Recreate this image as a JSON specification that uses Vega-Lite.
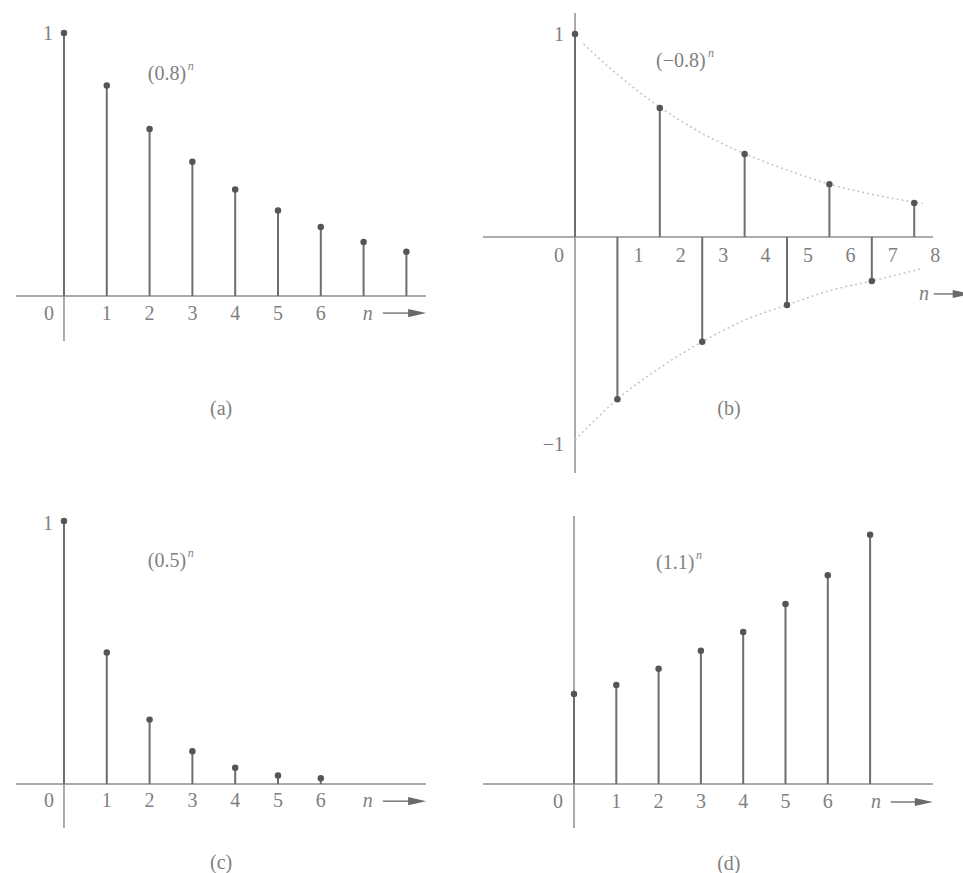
{
  "$schema": "https://vega.github.io/schema/vega-lite/v6.json",
  "background": "white",
  "padding": {"left": 15, "top": 12, "right": 0, "bottom": 0},
  "autosize": {"type": "pad"},
  "bounds": "flush",
  "align": "each",
  "columns": 2,
  "spacing": {"row": 43, "column": 57},
  "datasets": {
    "sa": [{"n":0,"v":1},{"n":1,"v":0.8},{"n":2,"v":0.635},{"n":3,"v":0.51},{"n":4,"v":0.405},{"n":5,"v":0.325},{"n":6,"v":0.262},{"n":7,"v":0.205},{"n":8,"v":0.168}],
    "sb": [{"n":0,"v":1},{"n":1,"v":-0.8},{"n":2,"v":0.635},{"n":3,"v":-0.517},{"n":4,"v":0.408},{"n":5,"v":-0.335},{"n":6,"v":0.26},{"n":7,"v":-0.217},{"n":8,"v":0.167}],
    "sc": [{"n":0,"v":1},{"n":1,"v":0.5},{"n":2,"v":0.245},{"n":3,"v":0.125},{"n":4,"v":0.062},{"n":5,"v":0.033},{"n":6,"v":0.022}],
    "sd": [{"n":0,"v":1},{"n":1,"v":1.1},{"n":2,"v":1.28},{"n":3,"v":1.48},{"n":4,"v":1.69},{"n":5,"v":2.0},{"n":6,"v":2.32},{"n":7,"v":2.77}],
    "envb": [
      {"n":0.2,"v":0.95,"side":"upper"},{"n":1,"v":0.8,"side":"upper"},{"n":2,"v":0.64,"side":"upper"},{"n":3,"v":0.51,"side":"upper"},{"n":4,"v":0.41,"side":"upper"},{"n":5,"v":0.33,"side":"upper"},{"n":6,"v":0.26,"side":"upper"},{"n":7,"v":0.21,"side":"upper"},{"n":8.2,"v":0.165,"side":"upper"},
      {"n":0,"v":-1,"side":"lower"},{"n":1,"v":-0.8,"side":"lower"},{"n":2,"v":-0.645,"side":"lower"},{"n":3,"v":-0.517,"side":"lower"},{"n":4,"v":-0.41,"side":"lower"},{"n":5,"v":-0.335,"side":"lower"},{"n":6,"v":-0.265,"side":"lower"},{"n":7,"v":-0.217,"side":"lower"},{"n":8.2,"v":-0.155,"side":"lower"}
    ],
    "t6": [{"k":1},{"k":2},{"k":3},{"k":4},{"k":5},{"k":6}],
    "t8": [{"k":1},{"k":2},{"k":3},{"k":4},{"k":5},{"k":6},{"k":7},{"k":8}],
    "one": [{}]
  },
  "concat": [
    {
      "width": 410, "height": 460,
      "layer": [
        {"data": {"name": "one"}, "mark": {"type": "rule", "color": "#8f8f8f", "strokeWidth": 1.5},
         "encoding": {"y": {"datum": 0, "type": "quantitative", "scale": {"domain": [-0.673, 1.076], "nice": false, "zero": false}}}},
        {"data": {"name": "one"}, "mark": {"type": "rule", "color": "#8f8f8f", "strokeWidth": 1.5},
         "encoding": {"x": {"datum": 0, "type": "quantitative", "scale": {"domain": [-1.121, 8.458], "nice": false, "zero": false}}, "y": {"datum": 1.008, "type": "quantitative"}, "y2": {"datum": -0.171}}},
        {"data": {"name": "sa"}, "mark": {"type": "rule", "color": "#6e6e6e", "strokeWidth": 2},
         "encoding": {"x": {"field": "n", "type": "quantitative"}, "y": {"field": "v", "type": "quantitative"}, "y2": {"datum": 0}}},
        {"data": {"name": "sa"}, "mark": {"type": "point", "filled": true, "size": 42, "color": "#555555", "opacity": 1},
         "encoding": {"x": {"field": "n", "type": "quantitative"}, "y": {"field": "v", "type": "quantitative"}}},
        {"data": {"name": "t6"}, "mark": {"type": "text", "dy": 18},
         "encoding": {"x": {"field": "k", "type": "quantitative"}, "y": {"datum": 0, "type": "quantitative"}, "text": {"field": "k"}}},
        {"data": {"name": "one"}, "mark": {"type": "text", "text": "0", "dx": -15, "dy": 18},
         "encoding": {"x": {"datum": 0, "type": "quantitative"}, "y": {"datum": 0, "type": "quantitative"}}},
        {"data": {"name": "one"}, "mark": {"type": "text", "text": "1", "align": "right", "dx": -11, "dy": 1},
         "encoding": {"x": {"datum": 0, "type": "quantitative"}, "y": {"datum": 1, "type": "quantitative"}}},
        {"data": {"name": "one"}, "mark": {"type": "text", "text": "(0.8)", "align": "left"},
         "encoding": {"x": {"datum": 1.96, "type": "quantitative"}, "y": {"datum": 0.844, "type": "quantitative"}}},
        {"data": {"name": "one"}, "mark": {"type": "text", "text": "n", "align": "left", "fontStyle": "italic", "fontSize": 12, "dx": 40, "dy": -8},
         "encoding": {"x": {"datum": 1.96, "type": "quantitative"}, "y": {"datum": 0.844, "type": "quantitative"}}},
        {"data": {"name": "one"}, "mark": {"type": "text", "text": "(a)"},
         "encoding": {"x": {"datum": 3.67, "type": "quantitative"}, "y": {"datum": -0.43, "type": "quantitative"}}},
        {"data": {"name": "one"}, "mark": {"type": "text", "text": "n", "fontStyle": "italic", "dy": 18},
         "encoding": {"x": {"datum": 7.1, "type": "quantitative"}, "y": {"datum": 0, "type": "quantitative"}}},
        {"data": {"name": "one"}, "mark": {"type": "rule", "color": "#7a7a7a", "strokeWidth": 1.5},
         "encoding": {"x": {"datum": 7.45, "type": "quantitative"}, "x2": {"datum": 8.1}, "y": {"datum": -0.065, "type": "quantitative"}}},
        {"data": {"name": "one"}, "mark": {"type": "point", "filled": true, "opacity": 1, "color": "#6a6a6a", "shape": "M-1,-0.45L1,0L-1,0.45Z", "size": 324},
         "encoding": {"x": {"datum": 8.25, "type": "quantitative"}, "y": {"datum": -0.065, "type": "quantitative"}}}
      ]
    },
    {
      "width": 450, "height": 460,
      "layer": [
        {"data": {"name": "one"}, "mark": {"type": "rule", "color": "#8f8f8f", "strokeWidth": 1.5},
         "encoding": {"y": {"datum": 0, "type": "quantitative", "scale": {"domain": [-1.163, 1.103], "nice": false, "zero": false}}}},
        {"data": {"name": "one"}, "mark": {"type": "rule", "color": "#8f8f8f", "strokeWidth": 1.5},
         "encoding": {"x": {"datum": 0, "type": "quantitative", "scale": {"domain": [-2.17, 8.443], "nice": false, "zero": false}}}},
        {"data": {"name": "envb"}, "mark": {"type": "line", "color": "#c4c4c4", "strokeWidth": 1.5, "strokeDash": [2, 3], "interpolate": "monotone"},
         "encoding": {"x": {"field": "n", "type": "quantitative"}, "y": {"field": "v", "type": "quantitative"}, "detail": {"field": "side"}}},
        {"data": {"name": "sb"}, "mark": {"type": "rule", "color": "#6e6e6e", "strokeWidth": 2},
         "encoding": {"x": {"field": "n", "type": "quantitative"}, "y": {"field": "v", "type": "quantitative"}, "y2": {"datum": 0}}},
        {"data": {"name": "sb"}, "mark": {"type": "point", "filled": true, "size": 42, "color": "#555555", "opacity": 1},
         "encoding": {"x": {"field": "n", "type": "quantitative"}, "y": {"field": "v", "type": "quantitative"}}},
        {"data": {"name": "t8"}, "mark": {"type": "text", "dx": 21, "dy": 19},
         "encoding": {"x": {"field": "k", "type": "quantitative"}, "y": {"datum": 0, "type": "quantitative"}, "text": {"field": "k"}}},
        {"data": {"name": "one"}, "mark": {"type": "text", "text": "0", "dx": -16, "dy": 19},
         "encoding": {"x": {"datum": 0, "type": "quantitative"}, "y": {"datum": 0, "type": "quantitative"}}},
        {"data": {"name": "one"}, "mark": {"type": "text", "text": "1", "align": "right", "dx": -11, "dy": 1},
         "encoding": {"x": {"datum": 0, "type": "quantitative"}, "y": {"datum": 1, "type": "quantitative"}}},
        {"data": {"name": "one"}, "mark": {"type": "text", "text": "−1", "align": "right", "dx": -11, "dy": 5},
         "encoding": {"x": {"datum": 0, "type": "quantitative"}, "y": {"datum": -1, "type": "quantitative"}}},
        {"data": {"name": "one"}, "mark": {"type": "text", "text": "(−0.8)", "align": "left"},
         "encoding": {"x": {"datum": 1.91, "type": "quantitative"}, "y": {"datum": 0.867, "type": "quantitative"}}},
        {"data": {"name": "one"}, "mark": {"type": "text", "text": "n", "align": "left", "fontStyle": "italic", "fontSize": 12, "dx": 52, "dy": -8},
         "encoding": {"x": {"datum": 1.91, "type": "quantitative"}, "y": {"datum": 0.867, "type": "quantitative"}}},
        {"data": {"name": "one"}, "mark": {"type": "text", "text": "(b)"},
         "encoding": {"x": {"datum": 3.63, "type": "quantitative"}, "y": {"datum": -0.847, "type": "quantitative"}}},
        {"data": {"name": "one"}, "mark": {"type": "text", "text": "n", "fontStyle": "italic"},
         "encoding": {"x": {"datum": 8.23, "type": "quantitative"}, "y": {"datum": -0.281, "type": "quantitative"}}},
        {"data": {"name": "one"}, "mark": {"type": "rule", "color": "#7a7a7a", "strokeWidth": 1.5},
         "encoding": {"x": {"datum": 8.46, "type": "quantitative"}, "x2": {"datum": 9.0}, "y": {"datum": -0.281, "type": "quantitative"}}},
        {"data": {"name": "one"}, "mark": {"type": "point", "filled": true, "opacity": 1, "color": "#6a6a6a", "shape": "M-1,-0.45L1,0L-1,0.45Z", "size": 324},
         "encoding": {"x": {"datum": 9.12, "type": "quantitative"}, "y": {"datum": -0.281, "type": "quantitative"}}}
      ]
    },
    {
      "width": 410, "height": 312,
      "layer": [
        {"data": {"name": "one"}, "mark": {"type": "rule", "color": "#8f8f8f", "strokeWidth": 1.5},
         "encoding": {"y": {"datum": 0, "type": "quantitative", "scale": {"domain": [-0.167, 1.019], "nice": false, "zero": false}}}},
        {"data": {"name": "one"}, "mark": {"type": "rule", "color": "#8f8f8f", "strokeWidth": 1.5},
         "encoding": {"x": {"datum": 0, "type": "quantitative", "scale": {"domain": [-1.121, 8.458], "nice": false, "zero": false}}, "y": {"datum": 1.008, "type": "quantitative"}, "y2": {"datum": -0.167}}},
        {"data": {"name": "sc"}, "mark": {"type": "rule", "color": "#6e6e6e", "strokeWidth": 2},
         "encoding": {"x": {"field": "n", "type": "quantitative"}, "y": {"field": "v", "type": "quantitative"}, "y2": {"datum": 0}}},
        {"data": {"name": "sc"}, "mark": {"type": "point", "filled": true, "size": 42, "color": "#555555", "opacity": 1},
         "encoding": {"x": {"field": "n", "type": "quantitative"}, "y": {"field": "v", "type": "quantitative"}}},
        {"data": {"name": "t6"}, "mark": {"type": "text", "dy": 17},
         "encoding": {"x": {"field": "k", "type": "quantitative"}, "y": {"datum": 0, "type": "quantitative"}, "text": {"field": "k"}}},
        {"data": {"name": "one"}, "mark": {"type": "text", "text": "0", "dx": -15, "dy": 17},
         "encoding": {"x": {"datum": 0, "type": "quantitative"}, "y": {"datum": 0, "type": "quantitative"}}},
        {"data": {"name": "one"}, "mark": {"type": "text", "text": "1", "align": "right", "dx": -11, "dy": 3},
         "encoding": {"x": {"datum": 0, "type": "quantitative"}, "y": {"datum": 1, "type": "quantitative"}}},
        {"data": {"name": "one"}, "mark": {"type": "text", "text": "(0.5)", "align": "left"},
         "encoding": {"x": {"datum": 1.96, "type": "quantitative"}, "y": {"datum": 0.848, "type": "quantitative"}}},
        {"data": {"name": "one"}, "mark": {"type": "text", "text": "n", "align": "left", "fontStyle": "italic", "fontSize": 12, "dx": 40, "dy": -8},
         "encoding": {"x": {"datum": 1.96, "type": "quantitative"}, "y": {"datum": 0.848, "type": "quantitative"}}},
        {"data": {"name": "one"}, "mark": {"type": "text", "text": "(c)"},
         "encoding": {"x": {"datum": 3.67, "type": "quantitative"}, "y": {"datum": -0.3, "type": "quantitative"}}},
        {"data": {"name": "one"}, "mark": {"type": "text", "text": "n", "fontStyle": "italic", "dy": 17},
         "encoding": {"x": {"datum": 7.1, "type": "quantitative"}, "y": {"datum": 0, "type": "quantitative"}}},
        {"data": {"name": "one"}, "mark": {"type": "rule", "color": "#7a7a7a", "strokeWidth": 1.5},
         "encoding": {"x": {"datum": 7.45, "type": "quantitative"}, "x2": {"datum": 8.1}, "y": {"datum": -0.065, "type": "quantitative"}}},
        {"data": {"name": "one"}, "mark": {"type": "point", "filled": true, "opacity": 1, "color": "#6a6a6a", "shape": "M-1,-0.45L1,0L-1,0.45Z", "size": 324},
         "encoding": {"x": {"datum": 8.25, "type": "quantitative"}, "y": {"datum": -0.065, "type": "quantitative"}}}
      ]
    },
    {
      "width": 450, "height": 312,
      "layer": [
        {"data": {"name": "one"}, "mark": {"type": "rule", "color": "#8f8f8f", "strokeWidth": 1.5},
         "encoding": {"y": {"datum": 0, "type": "quantitative", "scale": {"domain": [-0.489, 2.978], "nice": false, "zero": false}}}},
        {"data": {"name": "one"}, "mark": {"type": "rule", "color": "#8f8f8f", "strokeWidth": 1.5},
         "encoding": {"x": {"datum": 0, "type": "quantitative", "scale": {"domain": [-2.151, 8.487], "nice": false, "zero": false}}}},
        {"data": {"name": "sd"}, "mark": {"type": "rule", "color": "#6e6e6e", "strokeWidth": 2},
         "encoding": {"x": {"field": "n", "type": "quantitative"}, "y": {"field": "v", "type": "quantitative"}, "y2": {"datum": 0}}},
        {"data": {"name": "sd"}, "mark": {"type": "point", "filled": true, "size": 42, "color": "#555555", "opacity": 1},
         "encoding": {"x": {"field": "n", "type": "quantitative"}, "y": {"field": "v", "type": "quantitative"}}},
        {"data": {"name": "t6"}, "mark": {"type": "text", "dy": 18},
         "encoding": {"x": {"field": "k", "type": "quantitative"}, "y": {"datum": 0, "type": "quantitative"}, "text": {"field": "k"}}},
        {"data": {"name": "one"}, "mark": {"type": "text", "text": "0", "dx": -16, "dy": 18},
         "encoding": {"x": {"datum": 0, "type": "quantitative"}, "y": {"datum": 0, "type": "quantitative"}}},
        {"data": {"name": "one"}, "mark": {"type": "text", "text": "(1.1)", "align": "left"},
         "encoding": {"x": {"datum": 1.94, "type": "quantitative"}, "y": {"datum": 2.456, "type": "quantitative"}}},
        {"data": {"name": "one"}, "mark": {"type": "text", "text": "n", "align": "left", "fontStyle": "italic", "fontSize": 12, "dx": 40, "dy": -8},
         "encoding": {"x": {"datum": 1.94, "type": "quantitative"}, "y": {"datum": 2.456, "type": "quantitative"}}},
        {"data": {"name": "one"}, "mark": {"type": "text", "text": "(d)"},
         "encoding": {"x": {"datum": 3.66, "type": "quantitative"}, "y": {"datum": -0.889, "type": "quantitative"}}},
        {"data": {"name": "one"}, "mark": {"type": "text", "text": "n", "fontStyle": "italic", "dy": 18},
         "encoding": {"x": {"datum": 7.14, "type": "quantitative"}, "y": {"datum": 0, "type": "quantitative"}}},
        {"data": {"name": "one"}, "mark": {"type": "rule", "color": "#7a7a7a", "strokeWidth": 1.5},
         "encoding": {"x": {"datum": 7.49, "type": "quantitative"}, "x2": {"datum": 8.09}, "y": {"datum": -0.2, "type": "quantitative"}}},
        {"data": {"name": "one"}, "mark": {"type": "point", "filled": true, "opacity": 1, "color": "#6a6a6a", "shape": "M-1,-0.45L1,0L-1,0.45Z", "size": 324},
         "encoding": {"x": {"datum": 8.27, "type": "quantitative"}, "y": {"datum": -0.2, "type": "quantitative"}}}
      ]
    }
  ],
  "config": {
    "view": {"stroke": null},
    "axis": {"disable": true},
    "text": {"font": "Liberation Serif", "fontSize": 20, "fill": "#7f7f7f", "baseline": "middle"}
  }
}
